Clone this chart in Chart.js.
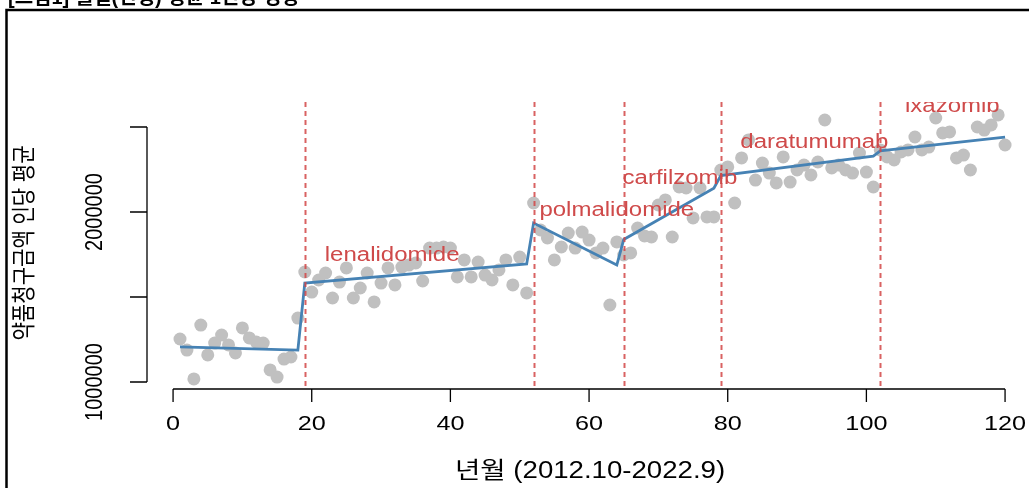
<!DOCTYPE html>
<html>
<head>
<meta charset="utf-8">
<script src="https://cdn.jsdelivr.net/npm/chart.js@4"></script>
<style>
  html, body { margin: 0; padding: 0; background: #fff; overflow: hidden; }
  canvas { display: block; }
</style>
</head>
<body>
<canvas id="chart" width="1029" height="488"></canvas>
<script>
// months 1..120 (2012.10 - 2022.9)
const months = Array.from({ length: 120 }, (_, i) => i + 1);

// monthly average drug claim per person (grey points)
const claims = [
  1253000, 1188000, 1018000, 1335000, 1159000, 1229000, 1276000, 1218000, 1171000, 1318000,
  1259000, 1235000, 1229000, 1071000, 1029000, 1135000, 1147000, 1376000, 1647000, 1529000,
  1600000, 1641000, 1494000, 1588000, 1671000, 1494000, 1553000, 1641000, 1471000, 1582000,
  1671000, 1571000, 1676000, 1688000, 1700000, 1594000, 1788000, 1788000, 1794000, 1788000,
  1618000, 1718000, 1618000, 1706000, 1629000, 1600000, 1659000, 1718000, 1571000, 1735000,
  1524000, 2053000, 1894000, 1847000, 1718000, 1794000, 1876000, 1788000, 1882000, 1835000,
  1759000, 1788000, 1453000, 1824000, 1747000, 1759000, 1906000, 1859000, 1853000, 2041000,
  2071000, 1853000, 2147000, 2141000, 1965000, 2141000, 1971000, 1971000, 2247000, 2265000,
  2053000, 2318000, 2424000, 2188000, 2288000, 2229000, 2171000, 2324000, 2176000, 2247000,
  2276000, 2218000, 2294000, 2541000, 2259000, 2276000, 2247000, 2229000, 2347000, 2235000,
  2147000, 2365000, 2324000, 2306000, 2353000, 2365000, 2441000, 2365000, 2382000, 2553000,
  2465000, 2471000, 2318000, 2335000, 2247000, 2500000, 2482000, 2512000, 2571000, 2394000
];

// segmented regression fit (blue line), value at each segment end
const fitMonths = [1, 18, 19, 51, 52, 64, 65, 78, 79, 101, 102, 120];
const fitValues = [1206000, 1188000, 1582000, 1694000, 1935000, 1688000, 1838000, 2140000, 2214000, 2329000, 2359000, 2441000];

// drug launch breakpoints and their labels
const breakMonths = [19, 52, 65, 79, 102];
const drugNames = ['lenalidomide', 'polmalidomide', 'carfilzomib', 'daratumumab', 'ixazomib'];
const labelMonths = [31.6, 64.0, 73.1, 92.5, 112.4];
const labelValues = [1747000, 2006000, 2200000, 2406000, 2618000];

// axis ticks
const xTicks = [0, 20, 40, 60, 80, 100, 120];
const yTicks = [1000000, 1500000, 2000000, 2500000];
const yTickLabels = ['1000000', '', '2000000', ''];

const titleText = '[그림1] 월별(연령) 평균 1인당 경향';
const xTitle = '년월 (2012.10-2022.9)';
const yTitle = '약품청구금액 인당 평균';

const FONT = "'Liberation Sans', 'Noto Sans CJK KR', sans-serif";
const SX = 1.2; // picture is a little stretched sideways

function drawText(ctx, s, x, y, opts) {
    ctx.save();
    ctx.translate(x, y);
    ctx.scale(opts.sx || SX, 1);
    if (opts.rot) ctx.rotate(opts.rot);
    ctx.font = opts.font;
    ctx.fillStyle = opts.color || '#000';
    ctx.textAlign = opts.align || 'center';
    ctx.textBaseline = opts.baseline || 'middle';
    ctx.fillText(s, 0, 0);
    ctx.restore();
}

// dashed breakpoint lines + drug names, clipped to plot region like R
const breaksPlugin = {
    id: 'breaks',
    afterDatasetsDraw(chart) {
        const { ctx, chartArea, scales: { x, y } } = chart;
        ctx.save();
        ctx.beginPath();
        ctx.rect(chartArea.left, chartArea.top, chartArea.right - chartArea.left, chartArea.bottom - chartArea.top);
        ctx.clip();

        ctx.strokeStyle = 'rgba(210, 70, 70, 0.85)';
        ctx.lineWidth = 2;
        ctx.setLineDash([5, 4]);
        breakMonths.forEach(m => {
            const px = Math.round(x.getPixelForValue(m)) + 0.5;
            ctx.beginPath();
            ctx.moveTo(px, chartArea.top);
            ctx.lineTo(px, chartArea.bottom);
            ctx.stroke();
        });
        ctx.setLineDash([]);

        drugNames.forEach((name, i) => {
            drawText(ctx, name, x.getPixelForValue(labelMonths[i]), y.getPixelForValue(labelValues[i]), {
                font: '20px ' + FONT, color: '#cf4a4a'
            });
        });
        ctx.restore();
    }
};

// R style axes, titles and outer frame
const rAxesPlugin = {
    id: 'rAxes',
    afterDraw(chart) {
        const { ctx, chartArea, scales: { x, y } } = chart;
        ctx.save();
        ctx.strokeStyle = '#000';

        // outer frame
        ctx.lineWidth = 2.5;
        ctx.beginPath();
        ctx.moveTo(1029, 10);
        ctx.lineTo(6.5, 10);
        ctx.lineTo(6.5, 488);
        ctx.stroke();

        drawText(ctx, titleText, 8, 4, { font: 'bold 20px ' + FONT, align: 'left', baseline: 'alphabetic', sx: 1 });

        ctx.lineWidth = 1.3;
        // x axis
        const xb = chartArea.bottom;
        ctx.beginPath();
        ctx.moveTo(x.getPixelForValue(xTicks[0]), xb);
        ctx.lineTo(x.getPixelForValue(xTicks[xTicks.length - 1]), xb);
        xTicks.forEach(t => {
            const px = x.getPixelForValue(t);
            ctx.moveTo(px, xb);
            ctx.lineTo(px, xb + 13);
        });
        ctx.stroke();
        xTicks.forEach(t => {
            drawText(ctx, String(t), x.getPixelForValue(t), xb + 35, { font: '21px ' + FONT });
        });

        // y axis
        const yl = chartArea.left;
        ctx.beginPath();
        ctx.moveTo(yl, y.getPixelForValue(yTicks[0]));
        ctx.lineTo(yl, y.getPixelForValue(yTicks[yTicks.length - 1]));
        yTicks.forEach(t => {
            const py = y.getPixelForValue(t);
            ctx.moveTo(yl, py);
            ctx.lineTo(yl - 17, py);
        });
        ctx.stroke();
        yTicks.forEach((t, i) => {
            if (!yTickLabels[i]) return;
            drawText(ctx, yTickLabels[i], 95, y.getPixelForValue(t), { font: '20px ' + FONT, rot: -Math.PI / 2 });
        });

        // axis titles
        drawText(ctx, xTitle, 590, 472, { font: '23px ' + FONT });
        drawText(ctx, yTitle, 25, 243, { font: '20px ' + FONT, rot: -Math.PI / 2 });
        ctx.restore();
    }
};

const ctx = document.getElementById('chart');

new Chart(ctx, {
    type: 'scatter',
    data: {
        datasets: [
            {
                label: 'fit',
                data: fitMonths.map((m, i) => ({ x: m, y: fitValues[i] })),
                showLine: true,
                borderColor: 'rgb(70, 130, 180)',
                borderWidth: 2.8,
                pointRadius: 0,
                tension: 0,
                order: 0
            },
            {
                label: 'claims',
                data: months.map((m, i) => ({ x: m, y: claims[i] })),
                backgroundColor: 'rgb(192, 192, 192)',
                borderWidth: 0,
                pointRadius: 6.5,
                pointHoverRadius: 6.5,
                order: 1
            }
        ]
    },
    options: {
        responsive: false,
        devicePixelRatio: 1,
        animation: false,
        events: [],
        layout: {
            autoPadding: false,
            padding: { left: 147, right: 3, top: 102, bottom: 99 }
        },
        plugins: {
            legend: { display: false },
            tooltip: { enabled: false }
        },
        scales: {
            x: { type: 'linear', min: -3.76, max: 123.02, display: false },
            y: { type: 'linear', min: 958800, max: 2647000, display: false }
        }
    },
    plugins: [breaksPlugin, rAxesPlugin]
});
</script>
</body>
</html>
